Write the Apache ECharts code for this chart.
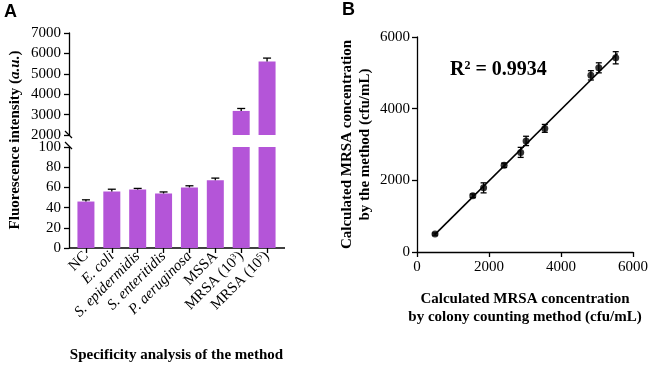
<!DOCTYPE html>
<html>
<head>
<meta charset="utf-8">
<script src="https://cdn.jsdelivr.net/npm/echarts@6/dist/echarts.min.js"></script>
<style>
  html, body { margin: 0; padding: 0; background: #fff; }
  #chart { width: 652px; height: 366px; }
</style>
</head>
<body>
<div id="chart"></div>
<script>
// panel A - specificity
var categories = ['NC', 'E. coli', 'S. epidermidis', 'S. enteritidis', 'P. aeruginosa', 'MSSA', 'MRSA (10^3)', 'MRSA (10^5)'];
var italicNames = ['E. coli', 'S. epidermidis', 'S. enteritidis', 'P. aeruginosa'];
var fluor = [46, 56, 58, 54, 60, 67, 3180, 5600];
var fluorErr = [1.7, 2.2, 1.0, 1.5, 1.6, 2.2, 120, 170];
var lowTicks = [0, 20, 40, 60, 80, 100];
var highTicks = [2000, 3000, 4000, 5000, 6000, 7000];

// panel B - method vs colony counting
var colonyCount = [500, 1550, 1850, 2420, 2880, 3030, 3550, 4830, 5050, 5520];
var methodCount = [500, 1570, 1790, 2420, 2780, 3100, 3450, 4930, 5140, 5420];
var methodErr = [30, 50, 140, 60, 140, 130, 110, 130, 140, 170];
var fitX = [500, 5570];
var fitY = [490, 5540];
var rSquared = '0.9934';

var SERIF = '"Liberation Serif", "Times New Roman", serif';
var PURPLE = '#B455D8';

var chart = echarts.init(document.getElementById('chart'));

// split bar data between the two halves of the broken axis
var lowBars = fluor.slice();
var highBars = fluor.map(function (v) { return v >= highTicks[0] ? v : '-'; });
var lowErr = [], highErr = [];
fluor.forEach(function (v, i) {
  if (v >= highTicks[0]) highErr.push([i, v, fluorErr[i]]);
  else lowErr.push([i, v, fluorErr[i]]);
});
var scatterErr = colonyCount.map(function (x, i) { return [x, methodCount[i], methodErr[i]]; });

function errorBars(capHalf, both) {
  return function (params, api) {
    var x = api.value(0), y = api.value(1), e = api.value(2);
    var hi = api.coord([x, y + e]);
    var lo = api.coord([x, both ? y - e : y]);
    var st = { stroke: '#000', lineWidth: 1.3 };
    var kids = [
      { type: 'line', shape: { x1: hi[0], y1: hi[1], x2: lo[0], y2: lo[1] }, style: st },
      { type: 'line', shape: { x1: hi[0] - capHalf, y1: hi[1], x2: hi[0] + capHalf, y2: hi[1] }, style: st }
    ];
    if (both) {
      kids.push({ type: 'line', shape: { x1: lo[0] - capHalf, y1: lo[1], x2: lo[0] + capHalf, y2: lo[1] }, style: st });
    }
    return { type: 'group', children: kids };
  };
}

function catLabel(v) {
  if (italicNames.indexOf(v) >= 0) return '{it|' + v + '}';
  var m = v.match(/^(.*)\^(\d+)(.*)$/);
  if (m) return '{n|' + m[1] + '}{sup|' + m[2] + '}{n|' + m[3] + '}';
  return '{n|' + v + '}';
}

function plain(v) { return String(v); }

var axisLineStyle = { color: '#000', width: 1.3 };
var tickStyle = { show: true, length: 5, lineStyle: { color: '#000', width: 1.3 } };
var labelBase = { color: '#000', fontFamily: SERIF, fontSize: 15, formatter: plain };
var titleStyle = { fontFamily: SERIF, fontSize: 15, fontWeight: 'bold', color: '#000', lineHeight: 18 };

chart.setOption({
  animation: false,
  grid: [
    { left: 73, top: 33, width: 207, height: 102 },
    { left: 73, top: 147, width: 207, height: 101 },
    { left: 417, top: 37, width: 216, height: 215 }
  ],
  xAxis: [
    { gridIndex: 0, type: 'category', data: categories, show: false },
    {
      gridIndex: 1, type: 'category', data: categories,
      axisLine: { show: false },
      axisTick: { show: true, alignWithLabel: true, length: 5, lineStyle: { color: '#000', width: 1.3 } },
      axisLabel: {
        interval: 0, rotate: 45, margin: 6, color: '#000',
        formatter: catLabel,
        rich: {
          n: { fontFamily: SERIF, fontSize: 15, color: '#000' },
          it: { fontFamily: SERIF, fontSize: 15, fontStyle: 'italic', color: '#000' },
          sup: { fontFamily: SERIF, fontSize: 9, color: '#000', verticalAlign: 'top', padding: [0, 0, 7, 0] }
        }
      },
      name: 'Specificity analysis of the method',
      nameLocation: 'middle', nameGap: 98,
      nameTextStyle: titleStyle
    },
    {
      gridIndex: 2, type: 'value', min: 0, max: 6000, interval: 2000,
      splitLine: { show: false },
      axisLine: { lineStyle: axisLineStyle },
      axisTick: tickStyle,
      axisLabel: Object.assign({}, labelBase, { margin: 8 }),
      name: 'Calculated MRSA concentration\nby colony counting method (cfu/mL)',
      nameLocation: 'middle', nameGap: 38,
      nameTextStyle: titleStyle
    }
  ],
  yAxis: [
    {
      gridIndex: 0, type: 'value', min: 2000, max: 7000, interval: 1000, offset: 4,
      splitLine: { show: false },
      axisLine: { show: true, lineStyle: axisLineStyle },
      axisTick: tickStyle,
      axisLabel: Object.assign({}, labelBase, { margin: 8 })
    },
    {
      gridIndex: 1, type: 'value', min: 0, max: 100, interval: 20, offset: 4,
      splitLine: { show: false },
      axisLine: { show: true, lineStyle: axisLineStyle },
      axisTick: tickStyle,
      axisLabel: Object.assign({}, labelBase, { margin: 8 })
    },
    {
      gridIndex: 2, type: 'value', min: 0, max: 6000, interval: 2000,
      splitLine: { show: false },
      axisLine: { show: true, lineStyle: axisLineStyle },
      axisTick: tickStyle,
      axisLabel: Object.assign({}, labelBase, { margin: 7 }),
      name: 'Calculated MRSA concentration\nby the method (cfu/mL)',
      nameLocation: 'middle', nameGap: 43, nameRotate: 90,
      nameTextStyle: titleStyle
    }
  ],
  graphic: [
    { type: 'text', left: 4, top: 3, style: { text: 'A', font: 'bold 18px "Liberation Sans", Arial, sans-serif', fill: '#000' } },
    { type: 'text', left: 342, top: 1, style: { text: 'B', font: 'bold 18px "Liberation Sans", Arial, sans-serif', fill: '#000' } },
    {
      type: 'text', x: 15, y: 140, rotation: Math.PI / 2,
      style: {
        text: '{b|Fluorescence intensity (}{bi|a.u.}{b|)}',
        align: 'center', verticalAlign: 'middle',
        rich: {
          b: { fontFamily: SERIF, fontSize: 15, fontWeight: 'bold', fill: '#000' },
          bi: { fontFamily: SERIF, fontSize: 15, fontWeight: 'bold', fontStyle: 'italic', fill: '#000' }
        }
      }
    },
    // x-axis line of panel A spans the whole plot width
    { type: 'line', shape: { x1: 69, y1: 248, x2: 285, y2: 248 }, style: { stroke: '#000', lineWidth: 1.3 } },
    // axis break marks
    { type: 'line', shape: { x1: 65, y1: 131, x2: 72, y2: 138 }, style: { stroke: '#000', lineWidth: 1.2 } },
    { type: 'line', shape: { x1: 65, y1: 142, x2: 72, y2: 149 }, style: { stroke: '#000', lineWidth: 1.2 } },
    {
      type: 'text', x: 450, y: 70,
      style: {
        text: '{b|R}{s|2}{b| = ' + rSquared + '}',
        verticalAlign: 'middle',
        rich: {
          b: { fontFamily: SERIF, fontSize: 20, fontWeight: 'bold', fill: '#000' },
          s: { fontFamily: SERIF, fontSize: 12, fontWeight: 'bold', fill: '#000', verticalAlign: 'top', padding: [0, 0, 8, 0] }
        }
      }
    }
  ],
  series: [
    { type: 'bar', xAxisIndex: 0, yAxisIndex: 0, data: highBars, barWidth: 17, itemStyle: { color: PURPLE } },
    { type: 'bar', xAxisIndex: 1, yAxisIndex: 1, data: lowBars, barWidth: 17, itemStyle: { color: PURPLE } },
    { type: 'custom', xAxisIndex: 0, yAxisIndex: 0, data: highErr, renderItem: errorBars(4, false), z: 5 },
    { type: 'custom', xAxisIndex: 1, yAxisIndex: 1, data: lowErr, renderItem: errorBars(4, false), z: 5 },
    {
      type: 'line', xAxisIndex: 2, yAxisIndex: 2,
      data: fitX.map(function (x, i) { return [x, fitY[i]]; }),
      showSymbol: false, lineStyle: { color: '#000', width: 1.6 }
    },
    { type: 'custom', xAxisIndex: 2, yAxisIndex: 2, data: scatterErr, renderItem: errorBars(3, true), z: 5 },
    {
      type: 'scatter', xAxisIndex: 2, yAxisIndex: 2,
      data: colonyCount.map(function (x, i) { return [x, methodCount[i]]; }),
      symbol: 'circle', symbolSize: 7, itemStyle: { color: '#000' }, z: 6
    }
  ]
});
</script>
</body>
</html>
